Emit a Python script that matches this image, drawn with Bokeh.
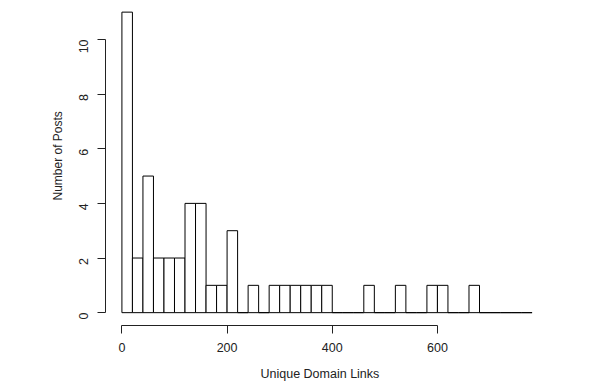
import math
from bokeh.plotting import figure
from bokeh.models import FixedTicker, Range1d, Title
from bokeh.embed import file_html
from bokeh.resources import INLINE

# Histogram data (bin width 20)
bin_edges = list(range(0, 800, 20))
counts = [11, 2, 5, 2, 2, 2, 4, 4, 1, 1,
          3, 0, 1, 0, 1, 1, 1, 1, 1, 1,
          0, 0, 0, 1, 0, 0, 1, 0, 0, 1,
          1, 0, 0, 1, 0, 0, 0, 0, 0]
x_ticks = [0, 200, 400, 600]
y_ticks = [0, 2, 4, 6, 8, 10]
x_title = "Unique Domain Links"
y_title = "Number of Posts"

p = figure(width=592, height=390, output_backend="svg", toolbar_location=None,
           x_range=Range1d(-31.2, 811.2), y_range=Range1d(-0.47, 11.06),
           min_border_left=105, min_border_right=44, min_border_top=10, min_border_bottom=64)

p.quad(left=bin_edges[:-1], right=bin_edges[1:], bottom=0, top=counts,
       fill_color="white", line_color="black", line_width=1)

p.xgrid.visible = False
p.ygrid.visible = False
p.outline_line_color = None

font = "Liberation Sans"
fs = "12.5px"
for ax in (p.xaxis[0], p.yaxis[0]):
    ax.axis_line_color = "#222222"
    ax.major_tick_line_color = "#222222"
    ax.minor_tick_line_color = None
    ax.major_tick_out = 8
    ax.major_tick_in = 0
    ax.major_label_text_font = font
    ax.major_label_text_font_size = fs
    ax.major_label_text_color = "#222222"

p.xaxis.ticker = FixedTicker(ticks=x_ticks)
p.yaxis.ticker = FixedTicker(ticks=y_ticks)
p.xaxis.bounds = (0, 600)
p.yaxis.bounds = (0, 10)
p.xaxis.major_label_standoff = 9
p.yaxis.major_label_standoff = 14
p.yaxis.major_label_orientation = math.pi / 2

p.add_layout(Title(text=x_title, align="left", offset=155, standoff=20,
                   text_font=font, text_font_size=fs, text_font_style="normal",
                   text_color="#222222"), "below")
p.add_layout(Title(text=y_title, align="left", offset=125, standoff=13,
                   text_font=font, text_font_size="12px", text_font_style="normal",
                   text_color="#222222"), "left")

open("out.html", "w").write(file_html(p, INLINE))
